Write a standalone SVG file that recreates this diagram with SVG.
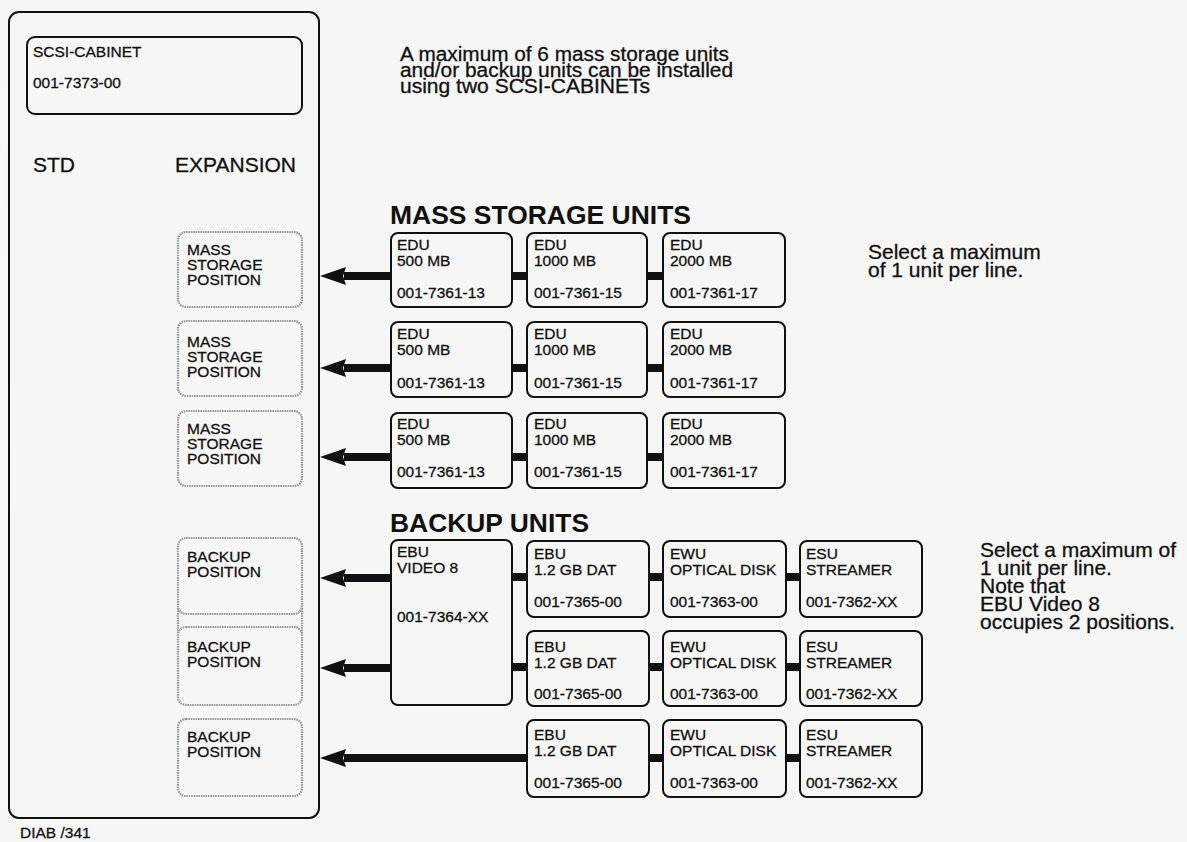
<svg xmlns="http://www.w3.org/2000/svg" width="1187" height="842" viewBox="0 0 1187 842">
<defs>
<style>
text{font-family:"Liberation Sans",Arial,Helvetica,sans-serif;fill:#111;stroke:#111;stroke-width:0.3}
.t{font-size:15.5px}
.big{font-size:21px}
.intro{font-size:19.5px}
.title{font-size:26px;font-weight:bold;stroke-width:0}
.box{fill:none;stroke:#111;stroke-width:2}
.pos{fill:none;stroke:#9a9a9a;stroke-width:2.2;stroke-dasharray:1.6 0.8}
.bar{stroke:#111;stroke-width:8;fill:none}
.head{fill:#111}
</style>
</defs>
<rect width="1187" height="842" fill="#f6f6f4"/>

<g id="cabinet">
<rect x="9" y="12" width="310" height="806" rx="10" class="box" stroke-width="2.5"/>
</g>
<g id="scsi-cabinet">
<rect x="27" y="37" width="275" height="77" rx="8" class="box"/>
<text x="33" y="57" class="t" font-size="16">SCSI-CABINET</text>
<text x="33" y="88" class="t" font-size="16">001-7373-00</text>
</g>
<text x="33" y="172" class="big">STD</text>
<text x="175" y="172" class="big">EXPANSION</text>

<g id="intro-note">
<text x="400" y="61" class="intro" textLength="329" lengthAdjust="spacingAndGlyphs">A maximum of 6 mass storage units</text>
<text x="400" y="77" class="intro" textLength="333" lengthAdjust="spacingAndGlyphs">and/or backup units can be installed</text>
<text x="400" y="93" class="intro" textLength="250" lengthAdjust="spacingAndGlyphs">using two SCSI-CABINETs</text>
</g>

<text class="big"><tspan x="868" y="259">Select a maximum</tspan><tspan x="868" y="277">of 1 unit per line.</tspan></text>
<text class="big"><tspan x="980" y="557">Select a maximum of</tspan><tspan x="980" y="575">1 unit per line.</tspan><tspan x="980" y="593">Note that</tspan><tspan x="980" y="611">EBU Video 8</tspan><tspan x="980" y="629">occupies 2 positions.</tspan></text>

<text x="390" y="224" class="title" textLength="301" lengthAdjust="spacingAndGlyphs">MASS STORAGE UNITS</text>
<text x="390" y="532" class="title" textLength="199" lengthAdjust="spacingAndGlyphs">BACKUP UNITS</text>

<!-- mass storage positions -->
<g id="ms-pos-1"><rect x="178" y="232" width="124" height="75" rx="8" class="pos"/>
<text class="t"><tspan x="187" y="255">MASS</tspan><tspan x="187" y="270">STORAGE</tspan><tspan x="187" y="285">POSITION</tspan></text></g>
<g id="ms-pos-2"><rect x="178" y="321" width="124" height="75" rx="8" class="pos"/>
<text class="t"><tspan x="187" y="347">MASS</tspan><tspan x="187" y="362">STORAGE</tspan><tspan x="187" y="377">POSITION</tspan></text></g>
<g id="ms-pos-3"><rect x="178" y="411" width="124" height="75" rx="8" class="pos"/>
<text class="t"><tspan x="187" y="434">MASS</tspan><tspan x="187" y="449">STORAGE</tspan><tspan x="187" y="464">POSITION</tspan></text></g>

<!-- backup positions -->
<g id="bk-pos-1"><rect x="178" y="538" width="124" height="76" rx="8" class="pos"/>
<text class="t"><tspan x="187" y="562">BACKUP</tspan><tspan x="187" y="577">POSITION</tspan></text></g>
<g id="bk-pos-2"><rect x="178" y="627" width="124" height="78" rx="8" class="pos"/>
<path d="M178 608 V633 M302 608 V633" class="pos"/>
<text class="t"><tspan x="187" y="652">BACKUP</tspan><tspan x="187" y="667">POSITION</tspan></text></g>
<g id="bk-pos-3"><rect x="178" y="719" width="124" height="77" rx="8" class="pos"/>
<text class="t"><tspan x="187" y="742">BACKUP</tspan><tspan x="187" y="757">POSITION</tspan></text></g>

<!-- EDU units -->
<g id="edu-500-1"><rect x="391" y="233" width="121" height="74" rx="7" class="box"/>
<text class="t"><tspan x="397" y="250">EDU</tspan><tspan x="397" y="266">500 MB</tspan><tspan x="397" y="298">001-7361-13</tspan></text></g>
<g id="edu-1000-1"><rect x="527" y="233" width="120" height="74" rx="7" class="box"/>
<text class="t"><tspan x="534" y="250">EDU</tspan><tspan x="534" y="266">1000 MB</tspan><tspan x="534" y="298">001-7361-15</tspan></text></g>
<g id="edu-2000-1"><rect x="663" y="233" width="122" height="74" rx="7" class="box"/>
<text class="t"><tspan x="670" y="250">EDU</tspan><tspan x="670" y="266">2000 MB</tspan><tspan x="670" y="298">001-7361-17</tspan></text></g>

<g id="edu-500-2"><rect x="391" y="322" width="121" height="75" rx="7" class="box"/>
<text class="t"><tspan x="397" y="339">EDU</tspan><tspan x="397" y="355">500 MB</tspan><tspan x="397" y="388">001-7361-13</tspan></text></g>
<g id="edu-1000-2"><rect x="527" y="322" width="120" height="75" rx="7" class="box"/>
<text class="t"><tspan x="534" y="339">EDU</tspan><tspan x="534" y="355">1000 MB</tspan><tspan x="534" y="388">001-7361-15</tspan></text></g>
<g id="edu-2000-2"><rect x="663" y="322" width="122" height="75" rx="7" class="box"/>
<text class="t"><tspan x="670" y="339">EDU</tspan><tspan x="670" y="355">2000 MB</tspan><tspan x="670" y="388">001-7361-17</tspan></text></g>

<g id="edu-500-3"><rect x="391" y="413" width="121" height="75" rx="7" class="box"/>
<text class="t"><tspan x="397" y="429">EDU</tspan><tspan x="397" y="445">500 MB</tspan><tspan x="397" y="477">001-7361-13</tspan></text></g>
<g id="edu-1000-3"><rect x="527" y="413" width="120" height="75" rx="7" class="box"/>
<text class="t"><tspan x="534" y="429">EDU</tspan><tspan x="534" y="445">1000 MB</tspan><tspan x="534" y="477">001-7361-15</tspan></text></g>
<g id="edu-2000-3"><rect x="663" y="413" width="122" height="75" rx="7" class="box"/>
<text class="t"><tspan x="670" y="429">EDU</tspan><tspan x="670" y="445">2000 MB</tspan><tspan x="670" y="477">001-7361-17</tspan></text></g>

<!-- backup units -->
<g id="ebu-video8"><rect x="391" y="540" width="121" height="165" rx="7" class="box"/>
<text class="t"><tspan x="397" y="557">EBU</tspan><tspan x="397" y="573">VIDEO 8</tspan><tspan x="397" y="622">001-7364-XX</tspan></text></g>

<g id="ebu-dat-1"><rect x="527" y="541" width="122" height="76" rx="7" class="box"/>
<text class="t"><tspan x="534" y="559">EBU</tspan><tspan x="534" y="575">1.2 GB DAT</tspan><tspan x="534" y="607">001-7365-00</tspan></text></g>
<g id="ewu-1"><rect x="663" y="541" width="123" height="76" rx="7" class="box"/>
<text class="t"><tspan x="670" y="559">EWU</tspan><tspan x="670" y="575">OPTICAL DISK</tspan><tspan x="670" y="607">001-7363-00</tspan></text></g>
<g id="esu-1"><rect x="800" y="541" width="122" height="76" rx="7" class="box"/>
<text class="t"><tspan x="806" y="559">ESU</tspan><tspan x="806" y="575">STREAMER</tspan><tspan x="806" y="607">001-7362-XX</tspan></text></g>

<g id="ebu-dat-2"><rect x="527" y="631" width="122" height="75" rx="7" class="box"/>
<text class="t"><tspan x="534" y="652">EBU</tspan><tspan x="534" y="668">1.2 GB DAT</tspan><tspan x="534" y="699">001-7365-00</tspan></text></g>
<g id="ewu-2"><rect x="663" y="631" width="123" height="75" rx="7" class="box"/>
<text class="t"><tspan x="670" y="652">EWU</tspan><tspan x="670" y="668">OPTICAL DISK</tspan><tspan x="670" y="699">001-7363-00</tspan></text></g>
<g id="esu-2"><rect x="800" y="631" width="122" height="75" rx="7" class="box"/>
<text class="t"><tspan x="806" y="652">ESU</tspan><tspan x="806" y="668">STREAMER</tspan><tspan x="806" y="699">001-7362-XX</tspan></text></g>

<g id="ebu-dat-3"><rect x="527" y="720" width="122" height="77" rx="7" class="box"/>
<text class="t"><tspan x="534" y="740">EBU</tspan><tspan x="534" y="756">1.2 GB DAT</tspan><tspan x="534" y="788">001-7365-00</tspan></text></g>
<g id="ewu-3"><rect x="663" y="720" width="123" height="77" rx="7" class="box"/>
<text class="t"><tspan x="670" y="740">EWU</tspan><tspan x="670" y="756">OPTICAL DISK</tspan><tspan x="670" y="788">001-7363-00</tspan></text></g>
<g id="esu-3"><rect x="800" y="720" width="122" height="77" rx="7" class="box"/>
<text class="t"><tspan x="806" y="740">ESU</tspan><tspan x="806" y="756">STREAMER</tspan><tspan x="806" y="788">001-7362-XX</tspan></text></g>

<g id="connectors">
<path class="bar" d="M344 276 H391 M344 368 H391 M344 457 H391 M344 578 H391 M344 668 H391 M344 758 H527"/>
<path class="head" d="M320 276 L346 267 L343 276 L346 285 Z M320 368 L346 359 L343 368 L346 377 Z M320 457 L346 448 L343 457 L346 466 Z M320 578 L346 569 L343 578 L346 587 Z M320 668 L346 659 L343 668 L346 677 Z M320 758 L346 749 L343 758 L346 767 Z"/>
<path class="bar" stroke-width="7" d="M512 276 H527 M647 276 H663 M512 368 H527 M647 368 H663 M512 457 H527 M647 457 H663 M512 577 H527 M649 577 H663 M786 577 H800 M512 667 H527 M649 667 H663 M786 667 H800 M649 758 H663 M786 758 H800"/>
</g>

<text x="20" y="838" class="t" font-size="14.5">DIAB /341</text>
</svg>
